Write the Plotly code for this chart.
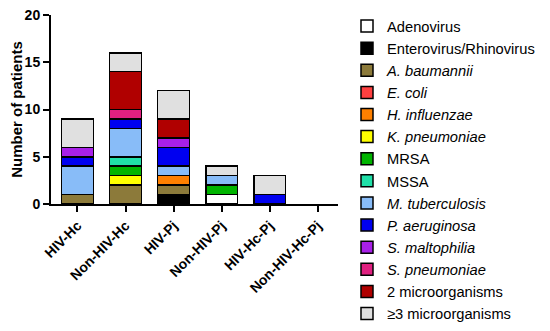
import plotly.graph_objects as go

categories = ["HIV-Hc", "Non-HIV-Hc", "HIV-Pj", "Non-HIV-Pj", "HIV-Hc-Pj", "Non-HIV-Hc-Pj"]

adenovirus = [0, 0, 0, 1, 0, 0]
enterovirus = [0, 0, 1, 0, 0, 0]
a_baumannii = [1, 2, 1, 0, 0, 0]
e_coli = [0, 0, 0, 0, 0, 0]
h_influenzae = [0, 0, 1, 0, 0, 0]
k_pneumoniae = [0, 1, 0, 0, 0, 0]
mrsa = [0, 1, 0, 1, 0, 0]
mssa = [0, 1, 0, 0, 0, 0]
m_tuberculosis = [3, 3, 1, 1, 0, 0]
p_aeruginosa = [1, 1, 2, 0, 1, 0]
s_maltophilia = [1, 0, 1, 0, 0, 0]
s_pneumoniae = [0, 1, 0, 0, 0, 0]
two_micro = [0, 4, 2, 0, 0, 0]
three_plus = [3, 2, 3, 1, 2, 0]

series = [
    ("Adenovirus", adenovirus, "#FFFFFF"),
    ("Enterovirus/Rhinovirus", enterovirus, "#000000"),
    ("<i>A. baumannii</i>", a_baumannii, "#8C7A3A"),
    ("<i>E. coli</i>", e_coli, "#FF4040"),
    ("<i>H. influenzae</i>", h_influenzae, "#FF8000"),
    ("<i>K. pneumoniae</i>", k_pneumoniae, "#FFFF00"),
    ("MRSA", mrsa, "#00B400"),
    ("MSSA", mssa, "#20E0A8"),
    ("<i>M. tuberculosis</i>", m_tuberculosis, "#88BCF8"),
    ("<i>P. aeruginosa</i>", p_aeruginosa, "#0000F0"),
    ("<i>S. maltophilia</i>", s_maltophilia, "#A820E8"),
    ("<i>S. pneumoniae</i>", s_pneumoniae, "#E02080"),
    ("2 microorganisms", two_micro, "#B00000"),
    ("≥3 microorganisms", three_plus, "#E0E0E0"),
]

FONT = "Arial, Liberation Sans, sans-serif"
W, H = 550, 323

fig = go.Figure()
for i, (name, vals, color) in enumerate(series):
    fig.add_trace(go.Bar(
        x=categories,
        y=[v if v else None for v in vals],
        name=name,
        legendgroup=f"g{i}",
        marker=dict(color=color, line=dict(color="#000000", width=1.5)),
        width=0.66,
    ))

fig.update_layout(
    width=W, height=H,
    barmode="stack",
    plot_bgcolor="white", paper_bgcolor="white",
    margin=dict(l=43, r=220, t=6.5, b=127, autoexpand=False),
    font=dict(family=FONT, color="black"),
    legend=dict(
        xref="container", yref="container",
        x=339 / W, y=1 - 2 / H, xanchor="left", yanchor="top",
        traceorder="grouped", tracegroupgap=0,
        font=dict(size=14.7, family=FONT),
        itemwidth=30,
        maxheight=H,
    ),
    showlegend=True,
)
fig.update_xaxes(
    range=[-0.55, 5.42],
    showline=True, linecolor="black", linewidth=2,
    ticks="outside", ticklen=6, tickwidth=2, tickcolor="black",
    tickangle=-45,
    ticklabeloverflow="allow",
    tickfont=dict(size=14, family=FONT, weight="bold"),
)
fig.update_yaxes(
    range=[0, 20], tickvals=[0, 5, 10, 15, 20],
    showline=True, linecolor="black", linewidth=2,
    ticks="outside", ticklen=6, tickwidth=2, tickcolor="black",
    showgrid=False, zeroline=False,
    ticklabeloverflow="allow",
    tickfont=dict(size=14, family=FONT, weight="bold"),
    title=dict(text="Number of patients", font=dict(size=15, family=FONT, weight="bold"), standoff=4),
)

fig.write_html("out.html")
